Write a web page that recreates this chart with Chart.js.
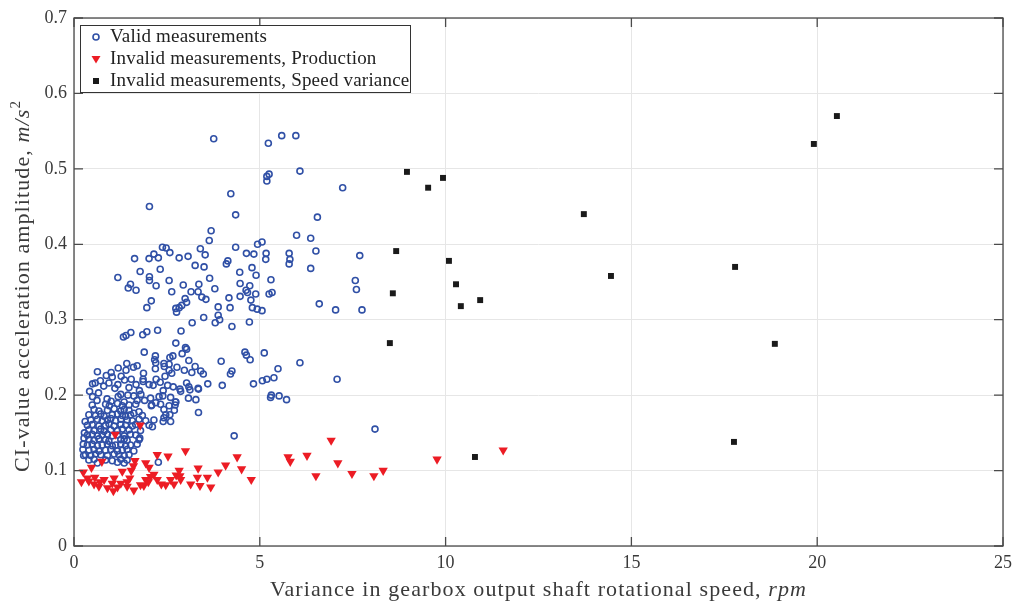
<!DOCTYPE html>
<html lang="en">
<head>
<meta charset="UTF-8">
<title>CI-value amplitude vs speed variance</title>
<script src="https://cdn.jsdelivr.net/npm/chart.js"></script>
<style>
    html, body { margin: 0; padding: 0; background: #fff; }
    .chart-box { width: 1028px; height: 601px; position: relative; }
</style>
</head>
<body>
<div class="chart-box"><canvas id="scatterChart"></canvas></div>

<script>
    // Valid measurements (open blue circles)
    var validX = [
        3.76,5.23,5.59,5.97,5.19,5.25,5.19,6.08,7.23,2.03,4.22,4.35,6.55,3.69,3.64,5.99,6.37,2.38,2.48,2.58,
        3.40,3.53,4.35,4.94,5.06,4.64,4.84,5.17,5.79,6.51,7.69,1.63,2.02,2.15,2.27,2.83,3.07,4.14,4.10,5.16,
        5.81,5.79,6.37,4.79,1.78,2.03,2.03,2.32,1.18,1.52,1.46,1.67,2.21,2.56,3.26,3.50,2.94,3.36,3.65,2.63,
        3.15,3.34,3.44,3.55,3.79,4.46,4.90,5.30,4.47,4.73,4.63,4.67,4.89,5.25,5.33,4.47,4.17,4.76,4.80,4.93,
        5.06,6.60,7.57,7.60,7.04,7.75,2.99,3.03,2.90,2.74,2.83,2.76,2.08,1.96,4.20,3.88,3.88,3.92,3.80,3.49,
        3.18,4.72,4.25,2.88,2.25,1.96,1.85,1.53,1.40,1.33,2.74,3.00,3.03,2.91,1.89,2.66,2.58,2.19,2.17,3.09,
        3.96,4.60,4.64,4.74,5.12,6.08,1.42,2.42,2.56,2.20,
        5.49,5.38,5.19,5.07,4.83,7.08,4.25,4.21,3.99,3.60,3.34,3.48,3.41,3.26,3.17,2.97,2.77,2.63,2.56,2.43,
        2.45,2.19,1.87,1.86,1.86,1.70,1.60,1.40,1.19,0.63,0.87,1.03,0.71,0.50,0.57,0.94,1.18,1.36,1.54,1.67,
        2.02,2.21,2.13,2.32,2.52,2.67,2.85,3.03,3.09,3.12,3.35,2.87,0.80,1.10,1.27,1.48,1.76,2.40,0.42,0.66,
        1.00,0.50,0.89,1.19,1.45,1.80,2.39,2.74,3.08,3.28,2.09,5.29,5.31,5.52,5.72,1.26,1.61,1.70,2.06,2.29,
        2.60,0.62,1.00,1.35,1.90,2.20,2.73,2.72,2.70,2.58,2.42,2.40,2.60,3.35,8.10,4.31,2.27,1.77,
        0.49,0.85,0.95,1.17,1.30,1.48,1.66,2.08,2.33,2.56,
        0.54,0.67,0.90,1.08,1.26,1.35,1.48,1.75,2.42,
        0.40,0.58,0.72,0.81,1.03,1.17,1.30,1.39,1.52,1.61,1.84,2.47,
        0.45,0.63,0.76,0.90,0.99,1.12,1.26,1.43,1.57,1.75,1.93,2.15,
        0.36,0.49,0.67,0.85,0.94,1.08,1.26,1.39,1.57,1.66,2.02,2.11,
        0.40,0.54,0.72,0.81,0.99,1.17,1.30,1.48,1.79,
        0.36,0.49,0.63,0.76,0.90,1.03,1.17,1.35,1.52,1.66,
        0.40,0.54,0.67,0.85,0.94,1.26,1.35,1.43,1.75,
        0.36,0.49,0.63,0.76,0.90,1.03,1.12,1.26,1.39,1.52,1.70,
        0.40,0.54,0.67,0.85,0.99,1.17,1.30,1.43,1.61,
        0.31,0.45,0.58,0.72,0.90,1.08,1.21,1.35,1.48,
        0.40,0.54,0.85,1.03,1.26,1.43,0.63,1.17,1.35,
        0.26,0.28,0.25,0.30,0.27,0.24
    ];
    var validY = [
        0.540,0.534,0.544,0.544,0.490,0.493,0.484,0.497,0.475,0.450,0.467,0.439,0.436,0.418,0.405,0.412,0.408,0.396,0.395,0.389,
        0.394,0.386,0.396,0.400,0.403,0.388,0.387,0.388,0.388,0.391,0.385,0.381,0.381,0.387,0.382,0.382,0.384,0.378,0.374,0.380,
        0.380,0.374,0.368,0.369,0.364,0.357,0.352,0.367,0.356,0.347,0.342,0.339,0.345,0.352,0.372,0.370,0.346,0.347,0.355,0.337,
        0.337,0.337,0.330,0.327,0.341,0.363,0.359,0.353,0.348,0.345,0.339,0.336,0.334,0.334,0.336,0.331,0.329,0.326,0.316,0.314,
        0.312,0.321,0.352,0.340,0.313,0.313,0.328,0.323,0.319,0.315,0.316,0.310,0.325,0.316,0.316,0.317,0.306,0.300,0.296,0.303,
        0.296,0.297,0.291,0.285,0.286,0.284,0.280,0.283,0.279,0.277,0.269,0.263,0.261,0.255,0.257,0.252,0.250,0.252,0.247,0.246,
        0.245,0.257,0.253,0.247,0.256,0.243,0.242,0.242,0.241,0.243,
        0.235,0.223,0.221,0.219,0.215,0.221,0.232,0.228,0.213,0.215,0.209,0.228,0.232,0.238,0.230,0.233,0.237,0.229,0.233,0.238,
        0.225,0.235,0.229,0.221,0.218,0.239,0.237,0.233,0.236,0.231,0.226,0.224,0.219,0.215,0.216,0.216,0.214,0.220,0.221,0.214,
        0.214,0.221,0.213,0.217,0.213,0.211,0.208,0.216,0.211,0.207,0.208,0.205,0.212,0.209,0.225,0.210,0.206,0.206,0.205,0.203,
        0.230,0.198,0.195,0.198,0.200,0.201,0.199,0.191,0.196,0.194,0.187,0.197,0.200,0.199,0.194,0.201,0.199,0.193,0.196,0.198,
        0.197,0.193,0.192,0.191,0.193,0.190,0.191,0.187,0.180,0.174,0.170,0.165,0.165,0.177,0.155,0.146,0.111,0.143,
        0.187,0.188,0.186,0.189,0.186,0.187,0.188,0.186,0.188,0.186,
        0.181,0.179,0.180,0.182,0.179,0.181,0.180,0.178,0.181,
        0.174,0.173,0.175,0.172,0.174,0.175,0.173,0.172,0.174,0.176,0.173,0.174,
        0.167,0.168,0.166,0.167,0.169,0.166,0.168,0.167,0.166,0.168,0.166,0.167,
        0.160,0.161,0.159,0.160,0.162,0.159,0.161,0.160,0.159,0.161,0.160,0.158,
        0.154,0.153,0.155,0.152,0.154,0.153,0.155,0.154,0.153,
        0.147,0.148,0.146,0.147,0.148,0.146,0.147,0.146,0.148,0.147,
        0.141,0.140,0.142,0.141,0.139,0.141,0.142,0.140,0.141,
        0.134,0.135,0.133,0.134,0.135,0.133,0.134,0.135,0.133,0.134,0.135,
        0.127,0.128,0.126,0.127,0.128,0.126,0.127,0.128,0.126,
        0.121,0.120,0.122,0.121,0.120,0.122,0.121,0.120,0.121,
        0.114,0.115,0.114,0.113,0.115,0.114,0.110,0.111,0.110,
        0.120,0.150,0.135,0.165,0.143,0.128
    ];

    // Invalid measurements, Production (red triangles)
    var prodX = [
        1.78,1.11,3.00,2.24,2.53,4.39,0.75,0.47,1.64,1.93,1.60,2.02,4.08,3.34,4.51,2.83,3.88,0.25,1.30,1.54,
        2.15,2.75,2.85,3.32,3.59,4.77,0.20,0.36,0.56,0.81,1.08,1.03,0.54,0.67,0.90,1.06,1.26,1.43,1.17,1.43,
        1.61,1.79,1.93,2.06,2.24,2.35,2.47,2.60,2.69,3.14,3.39,3.68,1.88,2.87,0.40,0.70,1.50,2.00,
        5.76,5.82,6.27,6.51,6.92,7.10,7.48,8.07,8.32,9.77,11.55
    ];
    var prodY = [
        0.160,0.148,0.126,0.121,0.119,0.118,0.112,0.104,0.113,0.110,0.106,0.104,0.107,0.103,0.102,0.100,0.098,0.098,0.099,0.100,
        0.095,0.094,0.093,0.091,0.091,0.088,0.085,0.090,0.091,0.088,0.090,0.083,0.082,0.079,0.077,0.073,0.083,0.085,0.078,0.079,
        0.074,0.081,0.088,0.092,0.088,0.082,0.081,0.088,0.082,0.082,0.080,0.078,0.080,0.088,0.086,0.085,0.090,0.085,
        0.118,0.112,0.120,0.093,0.140,0.110,0.096,0.093,0.100,0.115,0.127
    ];

    // Invalid measurements, Speed variance (black squares)
    var speedX = [8.96, 9.53, 9.93, 8.67, 10.09, 10.28, 10.41, 10.93, 8.58, 8.50, 10.79, 13.72, 14.45, 17.79, 18.86, 17.76, 19.91, 20.53];
    var speedY = [0.496, 0.475, 0.488, 0.391, 0.378, 0.347, 0.318, 0.326, 0.335, 0.269, 0.118, 0.440, 0.358, 0.370, 0.268, 0.138, 0.533, 0.570];

    var seriesLabels = ['Valid measurements', 'Invalid measurements, Production', 'Invalid measurements, Speed variance'];
    var xTitle = ['Variance in gearbox output shaft rotational speed, ', 'rpm'];
    var yTitle = ['CI-value acceleration amplitude, ', 'm/s', '2'];

    var BLUE = '#3050a6';
    var RED = '#ec1c24';
    var BLACK = '#1a1a1a';
    var SERIF = '"Liberation Serif", "DejaVu Serif", serif';
    var TEXT = '#3a3a3a';

    function toPoints(xs, ys) {
        return xs.map(function (x, i) { return { x: x, y: ys[i] }; });
    }

    function drawMarker(ctx, kind, x, y) {
        ctx.save();
        if (kind === 0) {
            ctx.strokeStyle = BLUE; ctx.lineWidth = 1.6;
            ctx.beginPath(); ctx.arc(x, y, 3, 0, Math.PI * 2); ctx.stroke();
        } else if (kind === 1) {
            ctx.fillStyle = RED;
            ctx.beginPath(); ctx.moveTo(x - 4.5, y - 3); ctx.lineTo(x + 4.5, y - 3); ctx.lineTo(x, y + 4.5); ctx.closePath(); ctx.fill();
        } else {
            ctx.fillStyle = BLACK;
            ctx.fillRect(x - 3, y - 3, 6, 6);
        }
        ctx.restore();
    }

    // measures a run of [text, font] pieces with the given letter spacing
    function runWidth(ctx, pieces, spacing) {
        var w = 0;
        pieces.forEach(function (p) {
            ctx.font = p[1];
            ctx.letterSpacing = spacing;
            w += ctx.measureText(p[0]).width;
        });
        return w;
    }

    // box, inward ticks, legend and axis titles (MATLAB look)
    var framePlugin = {
        id: 'frame',
        afterDraw: function (chart) {
            var ctx = chart.ctx, a = chart.chartArea;
            var xs = chart.scales.x, ys = chart.scales.y;
            ctx.save();

            ctx.strokeStyle = '#4a4a4a';
            ctx.lineWidth = 1.3;
            ctx.strokeRect(a.left, a.top, a.right - a.left, a.bottom - a.top);
            ctx.beginPath();
            xs.ticks.forEach(function (t) {
                var px = xs.getPixelForValue(t.value);
                ctx.moveTo(px, a.bottom); ctx.lineTo(px, a.bottom - 9);
                ctx.moveTo(px, a.top); ctx.lineTo(px, a.top + 9);
            });
            ys.ticks.forEach(function (t) {
                var py = ys.getPixelForValue(t.value);
                ctx.moveTo(a.left, py); ctx.lineTo(a.left + 9, py);
                ctx.moveTo(a.right, py); ctx.lineTo(a.right - 9, py);
            });
            ctx.stroke();

            // legend
            var lx = 80, ly = 25, lw = 330, lh = 67;
            ctx.fillStyle = '#fff';
            ctx.fillRect(lx, ly, lw, lh);
            ctx.strokeStyle = '#333';
            ctx.lineWidth = 1;
            ctx.strokeRect(lx + 0.5, ly + 0.5, lw, lh);
            ctx.font = '19px ' + SERIF;
            ctx.letterSpacing = '0.2px';
            ctx.textBaseline = 'middle';
            ctx.textAlign = 'left';
            seriesLabels.forEach(function (lab, i) {
                var yy = 37 + i * 22;
                drawMarker(ctx, i, 96, yy);
                ctx.fillStyle = '#222';
                ctx.fillText(lab, 110, yy);
            });

            var reg = '22px ' + SERIF, ita = 'italic 22px ' + SERIF, sup = '15px ' + SERIF;
            var ls = '1.1px';

            // x title
            ctx.fillStyle = TEXT;
            ctx.textBaseline = 'alphabetic';
            var w1 = runWidth(ctx, [[xTitle[0], reg]], ls);
            var wAll = runWidth(ctx, [[xTitle[0], reg], [xTitle[1], ita]], ls);
            var cx = (a.left + a.right) / 2 - wAll / 2;
            ctx.font = reg; ctx.fillText(xTitle[0], cx, 596);
            ctx.font = ita; ctx.fillText(xTitle[1], cx + w1, 596);

            // y title (rotated)
            ctx.save();
            ctx.translate(29, (a.top + a.bottom) / 2 + 4);
            ctx.rotate(-Math.PI / 2);
            var v1 = runWidth(ctx, [[yTitle[0], reg]], ls);
            var v2 = runWidth(ctx, [[yTitle[1], ita]], ls);
            var vAll = runWidth(ctx, [[yTitle[0], reg], [yTitle[1], ita], [yTitle[2], sup]], ls);
            var sx = -vAll / 2;
            ctx.letterSpacing = ls;
            ctx.font = reg; ctx.fillText(yTitle[0], sx, 0);
            ctx.font = ita; ctx.fillText(yTitle[1], sx + v1, 0);
            ctx.font = sup; ctx.fillText(yTitle[2], sx + v1 + v2, -9);
            ctx.restore();

            ctx.restore();
        }
    };

    var scatterConfig = {
        type: 'scatter',
        data: {
            datasets: [{
                label: seriesLabels[0],
                data: toPoints(validX, validY),
                pointStyle: 'circle',
                pointRadius: 3,
                borderColor: BLUE,
                backgroundColor: 'rgba(255,255,255,0)',
                pointBorderWidth: 1.6,
                order: 3
            }, {
                label: seriesLabels[1],
                data: toPoints(prodX, prodY),
                pointStyle: 'triangle',
                rotation: 180,
                pointRadius: 5.4,
                borderColor: RED,
                backgroundColor: RED,
                pointBorderWidth: 0,
                order: 2
            }, {
                label: seriesLabels[2],
                data: toPoints(speedX, speedY),
                pointStyle: 'rect',
                pointRadius: 4.2,
                borderColor: BLACK,
                backgroundColor: BLACK,
                pointBorderWidth: 0,
                order: 1
            }]
        },
        options: {
            responsive: true,
            maintainAspectRatio: false,
            animation: false,
            layout: { padding: { top: 18, right: 25, left: 0, bottom: 0 } },
            plugins: {
                legend: { display: false },
                tooltip: { enabled: false }
            },
            scales: {
                x: {
                    type: 'linear',
                    min: 0,
                    max: 25,
                    ticks: { stepSize: 5, padding: 6, color: TEXT, font: { family: SERIF, size: 18 } },
                    grid: { color: '#e6e6e6', drawTicks: false },
                    border: { display: false },
                    afterFit: function (scale) { scale.height = 55; }
                },
                y: {
                    min: 0,
                    max: 0.7,
                    ticks: {
                        stepSize: 0.1,
                        padding: 7,
                        color: TEXT,
                        font: { family: SERIF, size: 18 },
                        callback: function (v) { return v === 0 ? '0' : v.toFixed(1); }
                    },
                    grid: { color: '#e6e6e6', drawTicks: false },
                    border: { display: false },
                    afterFit: function (scale) { scale.width = 74; }
                }
            }
        },
        plugins: [framePlugin]
    };

    var scatterChart = new Chart(document.getElementById('scatterChart').getContext('2d'), scatterConfig);
</script>
</body>
</html>
